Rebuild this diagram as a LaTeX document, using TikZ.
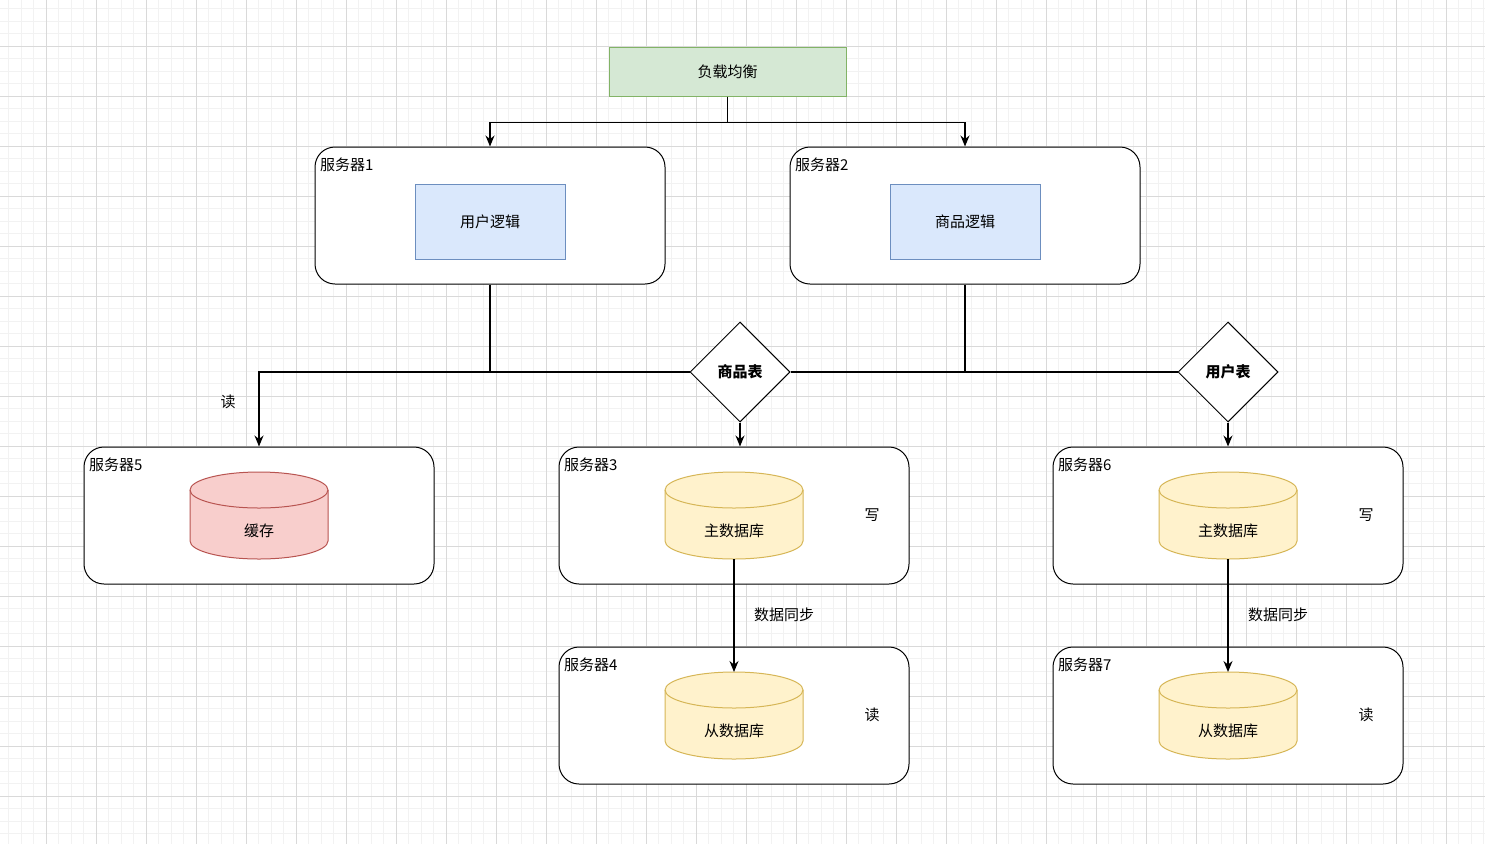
\documentclass[tikz,border=0pt]{standalone}
\usepackage{fontspec}
\setmainfont{Noto Sans CJK SC}
\usetikzlibrary{shapes.geometric,arrows.meta}

\definecolor{lbfill}{HTML}{D5E8D4}
\definecolor{lbline}{HTML}{82B366}
\definecolor{logicfill}{HTML}{DAE8FC}
\definecolor{logicline}{HTML}{6C8EBF}
\definecolor{cachefill}{HTML}{F8CECC}
\definecolor{cacheline}{HTML}{B85450}
\definecolor{dbfill}{HTML}{FFF2CC}
\definecolor{dbline}{HTML}{D6B656}

\tikzset{
  every node/.style={font=\fontsize{15}{18}\selectfont},
  minorline/.style={gray!10,line width=1},
  majorline/.style={gray!30,line width=1},
  server/.style={draw,fill=white,rounded corners=20,minimum width=350,minimum height=137,line width=1},
  logic/.style={draw=logicline,fill=logicfill,minimum width=150,minimum height=75,line width=1},
  table/.style={diamond,draw,fill=white,aspect=1,inner sep=0,minimum width=100,minimum height=100,line width=1,font=\fontsize{15}{18}\selectfont\bfseries},
  link/.style={line width=1.3,-{Stealth[length=11pt,width=9pt]}},
}

\begin{document}
\begin{tikzpicture}[x=1pt,y=-1pt]
\useasboundingbox (0,0) rectangle (1485,844);
\fill[white] (0,0) rectangle (1485,844);

% grid
\foreach \i in {0,...,118}
    \draw[minorline] (8.5+12.5*\i,0) -- (8.5+12.5*\i,844);
\foreach \i in {0,...,67}
    \draw[minorline] (0,8.5+12.5*\i) -- (1485,8.5+12.5*\i);
\foreach \x in {46,96,...,1446}
    \draw[majorline] (\x,0) -- (\x,844);
\foreach \y in {46,96,...,796}
    \draw[majorline] (0,\y) -- (1485,\y);

% boxes
\node[draw=lbline,fill=lbfill,minimum width=237,minimum height=49,line width=1] at (727.5,71.5)(lb){负载均衡};

\foreach \n/\x/\y/\t in {s1/490/215.5/服务器1, s2/965/215.5/服务器2, s5/259/515.5/服务器5,
    s3/734/515.5/服务器3, s4/734/715.5/服务器4, s6/1228/515.5/服务器6, s7/1228/715.5/服务器7}{
    \node[server] at (\x,\y)(\n){};
    \node[anchor=west,inner sep=0] at (\x-170,\y-50.5)(\n-l){\t};
}

\node[logic] at (490,221.5)(ul){用户逻辑};
\node[logic] at (965,221.5)(gl){商品逻辑};

% databases
\foreach \n/\x/\y/\f/\d/\t in {db5/259/472/cachefill/cacheline/缓存, db3/734/472/dbfill/dbline/主数据库,
    db4/734/672/dbfill/dbline/从数据库, db6/1228/472/dbfill/dbline/主数据库, db7/1228/672/dbfill/dbline/从数据库}{
    \filldraw[fill=\f,draw=\d,line width=1] (\x-69,\y+18) -- (\x-69,\y+69)
        arc[start angle=180,end angle=0,x radius=69,y radius=18] -- (\x+69,\y+18)
        arc[start angle=0,end angle=-180,x radius=69,y radius=18] -- cycle;
    \draw[\d,line width=1] (\x-69,\y+18) arc[start angle=180,end angle=0,x radius=69,y radius=18];
    \node at (\x,\y+59)(\n){\t};
    \coordinate (\n-top) at (\x,\y);
    \coordinate (\n-bot) at (\x,\y+87);
}

\node[table] at (740,372)(t1){商品表};
\node[table] at (1228,372)(t2){用户表};

% links
\draw[link] (lb.south) -- ++(0,26) -| (s1.north);
\draw[link] (lb.south) -- ++(0,26) -| (s2.north);

\coordinate (j1) at (s1.south |- t1.west);
\coordinate (j2) at (s2.south |- t1.east);
\draw[link] (s1.south) -- (j1) -| (s5.north);
\draw[line width=1.3] (j1) -- (t1.west);
\draw[line width=1.3] (s2.south) -- (j2);
\draw[line width=1.3] (t1.east) -- (t2.west);
\draw[link] (t1.south) -- (t1.south |- s3.north);
\draw[link] (t2.south) -- (t2.south |- s6.north);
\draw[link] (db3-bot) -- (db4-top);
\draw[link] (db6-bot) -- (db7-top);

% labels
\node at (228,402)(r5){读};
\node at (872,515)(w3){写};
\node at (872,715)(r4){读};
\node at (784,615)(sync1){数据同步};
\node at (1366,515)(w6){写};
\node at (1366,715)(r7){读};
\node at (1278,615)(sync2){数据同步};
\end{tikzpicture}
\end{document}
